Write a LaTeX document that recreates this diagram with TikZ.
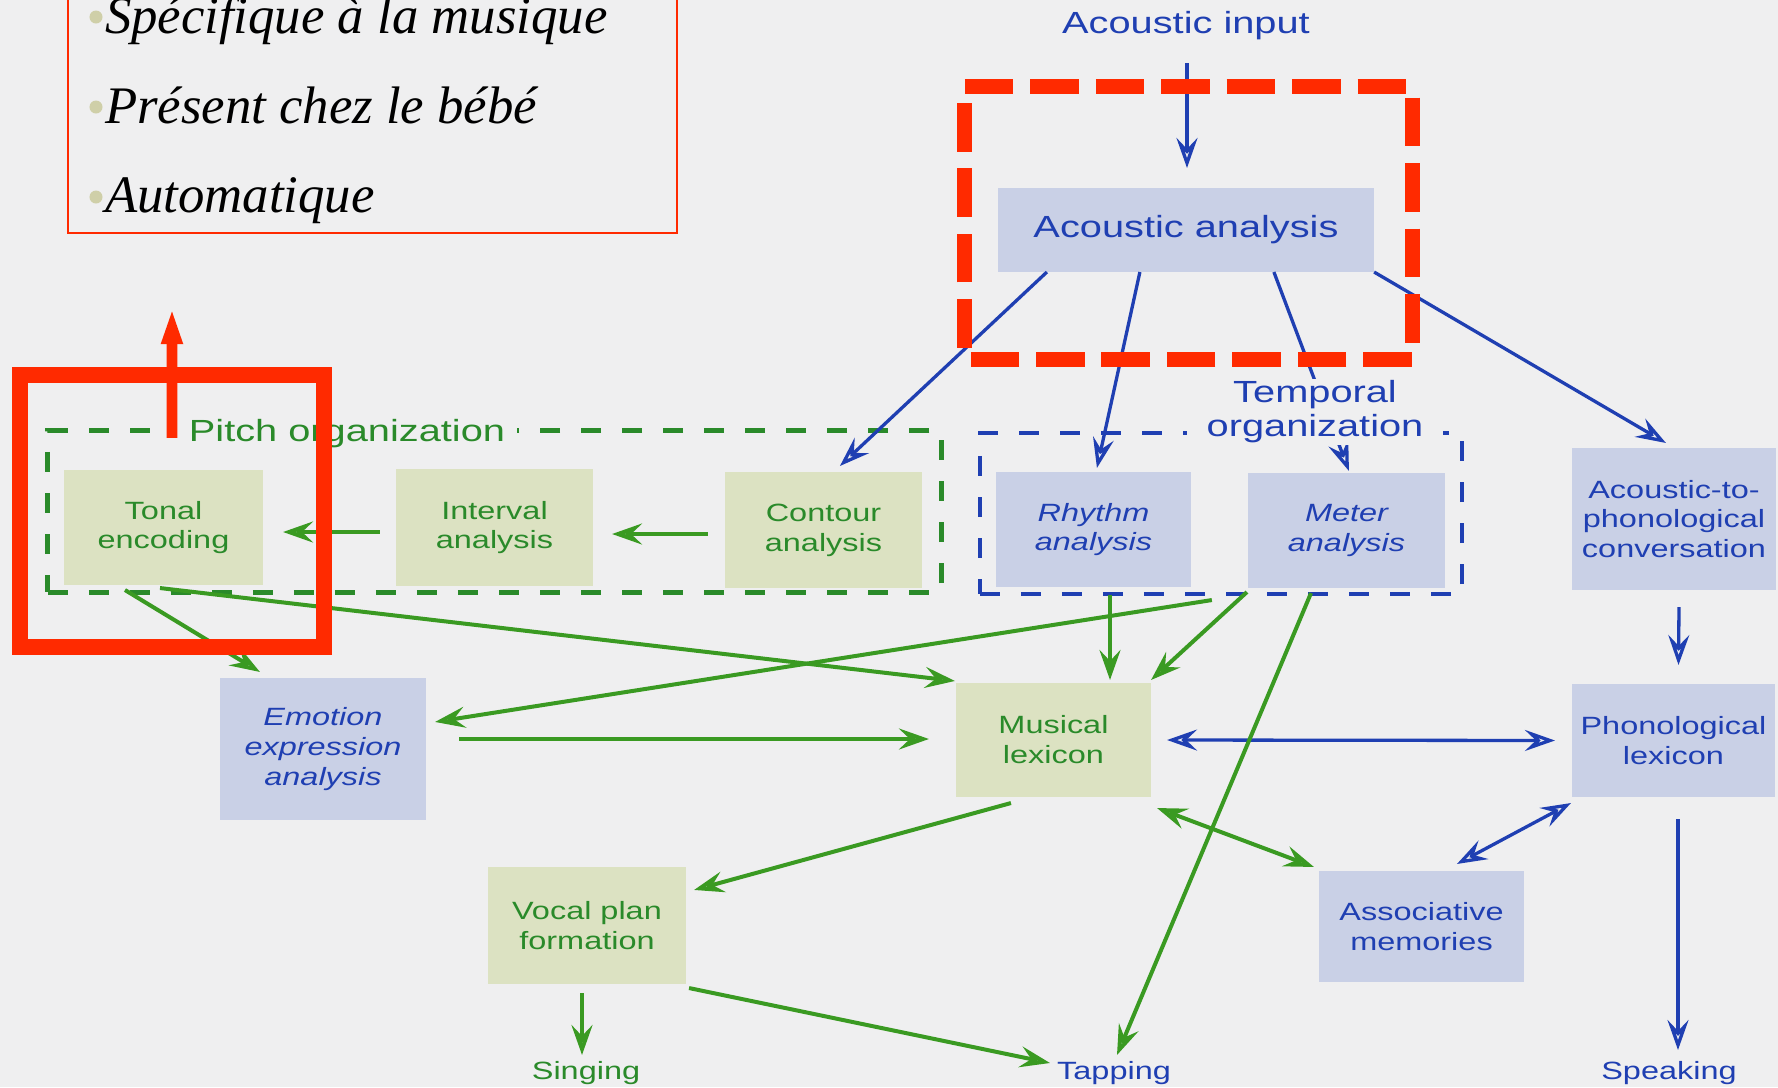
\documentclass[tikz,border=0pt]{standalone}
\usepackage{fontspec}
\setmainfont{Liberation Sans}[FakeStretch=1.3]
\newfontfamily\notefont{Liberation Serif}
\usetikzlibrary{arrows.meta,calc}

\definecolor{paper}{HTML}{EFEFF0}
\definecolor{ink}{HTML}{1F3FB2}
\definecolor{leaf}{HTML}{2A8A2A}
\definecolor{stem}{HTML}{3A9A22}
\definecolor{boxblue}{HTML}{C9D0E6}
\definecolor{boxgreen}{HTML}{DCE2C2}
\definecolor{alarm}{HTML}{FF2A00}
\definecolor{dot}{HTML}{CFCFA8}

\newcommand\boxsize{\fontsize{7.1pt}{8.5pt}\selectfont}
\newcommand\labelsize{\fontsize{8.7pt}{9.7pt}\selectfont}
\newcommand\notesize{\fontsize{15pt}{18pt}\selectfont}

\tikzset{
  every node/.style={outer sep=0pt},
  flowtip/.tip={Stealth[open, length=0.3cm, width=0.21cm, inset=0.11cm]},
  box/.style={rectangle, inner sep=0pt, align=center, font=\boxsize},
  bluebox/.style={box, fill=boxblue, text=ink},
  greenbox/.style={box, fill=boxgreen, text=leaf},
  outlbl/.style={inner sep=0pt, font=\boxsize, anchor=base},
  bflow/.style={draw=ink, line width=0.033cm, -flowtip},
  gflow/.style={draw=stem, line width=0.04cm, -flowtip},
  bboth/.style={draw=ink, line width=0.033cm, flowtip-flowtip},
  gboth/.style={draw=stem, line width=0.04cm, flowtip-flowtip},
  group/.style={rectangle, inner sep=0pt, dash pattern=on 0.2cm off 0.21cm},
  notebullet/.style={circle, fill=dot, inner sep=0pt, minimum size=0.13cm},
  noteline/.style={anchor=base west, inner sep=0pt, font=\notesize\notefont\itshape},
}

\begin{document}
\begin{tikzpicture}[x=0.01cm, y=-0.01cm]
\useasboundingbox (0,0) rectangle (1778,1087);
\clip (0,0) rectangle (1778,1087);
\fill[paper] (0,0) rectangle (1778,1087);

% ---- dashed groups ----
\node[group, draw=leaf, line width=0.05cm, minimum width=8.93cm, minimum height=1.61cm] (pitch) at (494.5,511.5) {};
\node[group, draw=ink, line width=0.045cm, minimum width=4.82cm, minimum height=1.61cm] (temporal) at (1221,513.5) {};

% ---- processing boxes ----
\node[bluebox, font=\labelsize, minimum width=3.76cm, minimum height=0.84cm] (acoustic) at (1186,230) {Acoustic analysis};
\node[greenbox, minimum width=1.99cm, minimum height=1.15cm] (tonal) at (163.5,527.5) {Tonal\\encoding};
\node[greenbox, minimum width=1.97cm, minimum height=1.17cm] (interval) at (494.5,527.5) {Interval\\analysis};
\node[greenbox, minimum width=1.97cm, minimum height=1.16cm] (contour) at (823.5,530) {Contour\\analysis};
\node[bluebox, font=\boxsize\itshape, minimum width=1.95cm, minimum height=1.15cm] (rhythm) at (1093.5,529.5) {Rhythm\\analysis};
\node[bluebox, font=\boxsize\itshape, minimum width=1.97cm, minimum height=1.15cm] (meter) at (1346.5,530.5) {Meter\\analysis};
\node[bluebox, minimum width=2.04cm, minimum height=1.42cm] (atp) at (1674,519) {Acoustic-to-\\phonological\\conversation};
\node[bluebox, minimum width=2.03cm, minimum height=1.13cm] (phonlex) at (1673.5,740.5) {Phonological\\lexicon};
\node[greenbox, minimum width=1.95cm, minimum height=1.14cm] (muslex) at (1053.5,740) {Musical\\lexicon};
\node[bluebox, font=\boxsize\itshape, minimum width=2.06cm, minimum height=1.42cm] (emotion) at (323,749) {Emotion\\expression\\analysis};
\node[greenbox, minimum width=1.98cm, minimum height=1.17cm] (vocal) at (587,925.5) {Vocal plan\\formation};
\node[bluebox, minimum width=2.05cm, minimum height=1.11cm] (assoc) at (1421.5,926.5) {Associative\\memories};

% ---- input and outputs ----
\node[outlbl, font=\labelsize, text=ink] (input) at (1186,33) {Acoustic input};
\node[outlbl, text=leaf] (singing) at (586,1079) {Singing};
\node[outlbl, text=ink] (tapping) at (1114,1079) {Tapping};
\node[outlbl, text=ink] (speaking) at (1669,1079) {Speaking};

% ---- blue connectors ----
\draw[bflow] ($(input.base)+(1,30)$) -- ($(acoustic.north)+(1,-20)$);
\draw[bflow] ($(acoustic.south west)+(49,0)$) -- ($(contour.north west)+(115,-6)$);
\draw[bflow] ($(acoustic.south west)+(142,0)$) -- ($(rhythm.north west)+(101,-4)$);
\draw[bflow] ($(acoustic.south west)+(276,0)$) -- ($(meter.north west)+(101,-2)$);
\draw[bflow] (acoustic.south east) -- ($(atp.north west)+(94,-5)$);
\draw[bflow] ($(atp.south)+(5,17)$) -- ($(phonlex.north)+(5,-19)$);
\draw[bboth] ($(muslex.east)+(16,0)$) -- ($(phonlex.west)+(-17,0)$);
\draw[bboth] ($(phonlex.south west)+(-1,6)$) -- ($(assoc.north west)+(138,-7)$);
\draw[bflow] ($(phonlex.south)+(4.5,22)$) -- ($(speaking.base)+(9,-29)$);

% ---- green connectors ----
\draw[gflow] ($(contour.west)+(-17,4)$) -- ($(interval.east)+(19,6.5)$);
\draw[gflow] ($(interval.west)+(-16,4.5)$) -- ($(tonal.east)+(20,4.5)$);
\draw[gflow] ($(tonal.south)+(-3.5,3)$) -- ($(muslex.north west)+(-1,-2)$);
\draw[gflow] ($(tonal.south)+(-38.5,5)$) -- ($(emotion.north west)+(40,-6)$);
\draw[gflow] ($(emotion.east)+(33,-10)$) -- ($(muslex.west)+(-27,-1)$);
\draw[gflow] ($(rhythm.south)+(16.5,8)$) -- ($(muslex.north)+(56.5,-3)$);
\draw[gflow] ($(meter.south west)+(-1,4)$) -- ($(muslex.north east)+(0,-3)$);
\draw[gflow] ($(temporal.south west)+(232,6)$) -- ($(emotion.north east)+(9,44)$);
\draw[gflow] ($(meter.south)+(-35.5,5)$) -- ($(tapping.base)+(3,-24)$);
\draw[gflow] ($(muslex.south west)+(55,6)$) -- ($(vocal.north east)+(8,23)$);
\draw[gboth] ($(muslex.south east)+(6,11)$) -- ($(assoc.north west)+(-5,-4)$);
\draw[gflow] ($(vocal.south)+(-5,9)$) -- ($(singing.base)+(-4,-24)$);
\draw[gflow] ($(vocal.south east)+(3,4)$) -- ($(tapping.base)+(-64,-16)$);

% ---- group titles ----
\node[font=\labelsize, text=leaf, fill=paper, inner xsep=0.12cm, inner ysep=0.02cm, anchor=base] (pitchlbl) at (347,441) {Pitch organization};
\node[font=\labelsize, text=ink, fill=paper, align=center, inner xsep=0.2cm, inner ysep=0.02cm] (templbl) at (1315,412) {Temporal\\organization};

% ---- annotation overlay ----
\node[draw=alarm, line width=0.02cm, minimum width=6.09cm, minimum height=2.6cm, anchor=south west, inner sep=0pt] (notes) at (68,233) {};
\node[notebullet] (b1) at (96,17) {};
\node[notebullet] (b2) at (96,107) {};
\node[notebullet] (b3) at (96,197) {};
\node[noteline] (n1) at (105,33) {Spécifique à la musique};
\node[noteline] (n2) at (105,123) {Présent chez le bébé};
\node[noteline] (n3) at (105,212) {Automatique};

\node[draw=alarm, line width=0.165cm, minimum width=3.04cm, minimum height=2.72cm, inner sep=0pt] (hl) at (172,511) {};
\draw[alarm, line width=0.107cm, -{Triangle[length=0.37cm, width=0.19cm]}] ($(hl.north west)+(152,63)$) -- ($(notes.south west)+(104,74)$);

% dashed frame around the acoustic stage
\node[minimum width=4.47cm, minimum height=2.72cm, inner sep=0pt] (focus) at (1188.5,223) {};
\draw[alarm, line width=0.15cm, dash pattern=on 0.485cm off 0.169cm]
  (focus.north west) -- (focus.north east) -- (focus.south east) -- (focus.south west) -- cycle;
\end{tikzpicture}
\end{document}
